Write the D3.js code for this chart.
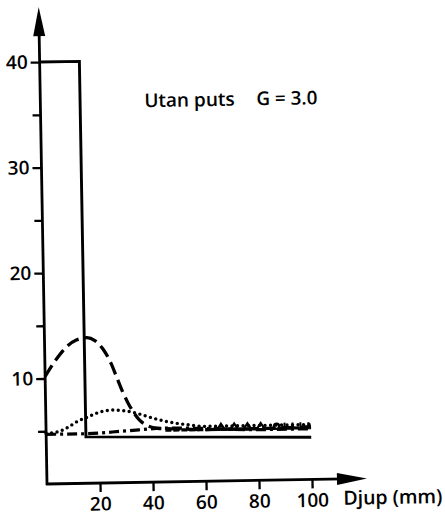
<!DOCTYPE html>
<html><head><meta charset="utf-8">
<script src="https://cdn.jsdelivr.net/npm/d3@7"></script>
<style>html,body{margin:0;padding:0;background:#fff}</style>
</head><body>
<svg id="chart" width="445" height="515"></svg>
<script>
// Axis ticks
const xTicks = [20, 40, 60, 80, 100];
const yTicks = [10, 20, 30, 40];
const yMinorTicks = [5, 15, 25, 35];

// Curves: depth (mm) and value
const solidDepth = [0, 15, 15, 100];
const solidValue = [40, 40, 4.4, 4.0];

const dashedDepth = [0, 4, 8, 12, 16, 19, 22, 25, 27, 29, 31, 33, 35, 38, 42, 50, 60, 80, 100];
const dashedValue = [10.2, 11.7, 12.9, 13.6, 13.8, 13.5, 12.7, 11.3, 10.0, 8.7, 7.6, 6.7, 6.0, 5.4, 5.1, 5.0, 4.9, 4.9, 5.0];

const dottedDepth = [0, 4, 8, 12, 16, 20, 25, 30, 35, 40, 46, 53, 60, 80, 100];
const dottedValue = [4.8, 4.9, 5.3, 5.9, 6.3, 6.7, 6.9, 6.8, 6.5, 6.1, 5.7, 5.4, 5.2, 5.2, 5.2];

const dashDotDepth = [0, 15, 30, 45, 60, 80, 100];
const dashDotValue = [4.7, 4.7, 4.9, 5.1, 5.0, 4.8, 4.8];

const markerLineDepth = [45, 60, 80, 100];
const markerLineValue = [4.9, 4.9, 4.9, 4.9];
const triangleDepth = [66, 71, 76, 81];
const triangleValue = [4.95, 4.95, 4.95, 4.95];
const circleDepth = [87];
const circleValue = [4.95];
const tickMarkDepth = [90, 93, 96, 99];
const tickMarkValue = [4.95, 4.95, 4.95, 4.95];

const title1 = "Utan puts";
const title2 = "G = 3.0";
const xLabel = "Djup (mm)";

const FONT = "'Open Sans', 'DejaVu Sans', sans-serif";
const WEIGHT = 600;
const svg = d3.select("#chart");
const ox = 47, oy = 484;

const x = d3.scaleLinear().domain([0, 100]).range([ox, 312]);
const y = d3.scaleLinear().domain([0, 40]).range([oy, 62]);

const g = svg.append("g").attr("transform", `rotate(-1, ${ox}, ${oy})`);

// Axis lines with arrowheads
g.append("line").attr("x1", ox).attr("y1", oy + 1).attr("x2", ox).attr("y2", 30)
  .attr("stroke", "#000").attr("stroke-width", 2.8);
g.append("path").attr("d", `M${ox},7 L${ox - 6},36 L${ox + 6},36 Z`).attr("fill", "#000");
g.append("line").attr("x1", ox - 1).attr("y1", oy).attr("x2", 345).attr("y2", oy)
  .attr("stroke", "#000").attr("stroke-width", 2.8);
g.append("path").attr("d", `M367,${oy} L337,${oy - 6} L337,${oy + 6} Z`).attr("fill", "#000");

// Y axis ticks and labels
const yAxis = g.append("g").attr("transform", `translate(${ox},0)`)
  .call(d3.axisLeft(y).tickValues(yTicks).tickSize(9).tickPadding(3));
const yMinor = g.append("g").attr("transform", `translate(${ox},0)`)
  .call(d3.axisLeft(y).tickValues(yMinorTicks).tickSize(8).tickFormat(""));
// X axis ticks and labels
const xAxis = g.append("g").attr("transform", `translate(0,${oy})`)
  .call(d3.axisBottom(x).tickValues(xTicks).tickSize(9).tickPadding(5));

[yAxis, yMinor, xAxis].forEach(a => {
  a.select(".domain").remove();
  a.selectAll(".tick line").attr("stroke", "#000").attr("stroke-width", 2.3);
  a.selectAll(".tick text").attr("fill", "#000").attr("font-family", FONT)
    .attr("font-weight", WEIGHT).attr("font-size", 19);
});

const line = d3.line().x(d => x(d[0])).y(d => y(d[1]));
const smooth = d3.line().x(d => x(d[0])).y(d => y(d[1])).curve(d3.curveMonotoneX);

// Solid step profile
g.append("path").attr("d", line(d3.zip(solidDepth, solidValue)))
  .attr("fill", "none").attr("stroke", "#000").attr("stroke-width", 2.9)
  .attr("stroke-linejoin", "miter");

// Marker series along the bottom band
g.append("path").attr("d", line(d3.zip(markerLineDepth, markerLineValue)))
  .attr("fill", "none").attr("stroke", "#000").attr("stroke-width", 3.2)
  .attr("stroke-dasharray", "6 2");
g.selectAll("path.tri").data(d3.zip(triangleDepth, triangleValue)).join("path")
  .attr("class", "tri")
  .attr("d", d => `M${x(d[0])},${y(d[1]) - 5} L${x(d[0]) - 4},${y(d[1]) + 1} L${x(d[0]) + 4},${y(d[1]) + 1} Z`)
  .attr("fill", "#fff").attr("stroke", "#000").attr("stroke-width", 2.2);
g.selectAll("circle.mk").data(d3.zip(circleDepth, circleValue)).join("circle")
  .attr("class", "mk").attr("cx", d => x(d[0])).attr("cy", d => y(d[1]) - 1.5).attr("r", 2.6)
  .attr("fill", "#fff").attr("stroke", "#000").attr("stroke-width", 2.2);
g.selectAll("line.tk").data(d3.zip(tickMarkDepth, tickMarkValue)).join("line")
  .attr("class", "tk")
  .attr("x1", d => x(d[0])).attr("x2", d => x(d[0]))
  .attr("y1", d => y(d[1]) - 5).attr("y2", d => y(d[1]) + 2)
  .attr("stroke", "#000").attr("stroke-width", 2);

// Dash-dot curve
g.append("path").attr("d", smooth(d3.zip(dashDotDepth, dashDotValue)))
  .attr("fill", "none").attr("stroke", "#000").attr("stroke-width", 3.2)
  .attr("stroke-dasharray", "10 4 3 4");

// Dotted curve
g.append("path").attr("d", smooth(d3.zip(dottedDepth, dottedValue)))
  .attr("fill", "none").attr("stroke", "#000").attr("stroke-width", 3.4)
  .attr("stroke-linecap", "round").attr("stroke-dasharray", "0 5.5");

// Dashed curve
g.append("path").attr("d", smooth(d3.zip(dashedDepth, dashedValue)))
  .attr("fill", "none").attr("stroke", "#000").attr("stroke-width", 3.3)
  .attr("stroke-dasharray", "13 6");

// Title and axis label
g.append("text").attr("x", 151).attr("y", 109).attr("font-family", FONT)
  .attr("font-weight", WEIGHT).attr("font-size", 19).attr("fill", "#000").text(title1);
g.append("text").attr("x", 263).attr("y", 109).attr("font-family", FONT)
  .attr("font-weight", WEIGHT).attr("font-size", 19).attr("fill", "#000")
  .attr("textLength", 61).attr("lengthAdjust", "spacingAndGlyphs").text(title2);
g.append("text").attr("x", 343).attr("y", 510).attr("font-family", FONT)
  .attr("font-weight", WEIGHT).attr("font-size", 19.5).attr("fill", "#000")
  .attr("textLength", 99).attr("lengthAdjust", "spacingAndGlyphs").text(xLabel);
</script>
</body></html>
